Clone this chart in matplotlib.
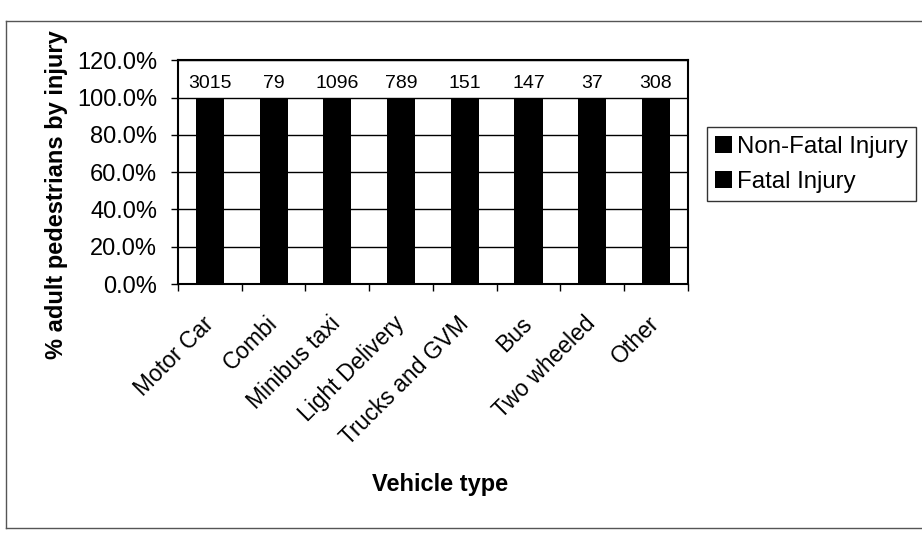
import numpy as np
import matplotlib
matplotlib.use('Agg')
import matplotlib.pyplot as plt
from matplotlib.lines import Line2D

plt.rcParams['font.family'] = ['Liberation Sans', 'DejaVu Sans']

# vehicle categories and total counts (labels above bars)
vehicles = ['Motor Car', 'Combi', 'Minibus taxi', 'Light Delivery',
            'Trucks and GVM', 'Bus', 'Two wheeled', 'Other']
totals = [3015, 79, 1096, 789, 151, 147, 37, 308]
# share of each injury type (%), both drawn black in the source
fatal_pct = [10.0, 12.0, 9.0, 11.0, 15.0, 13.0, 8.0, 12.0]
non_fatal_pct = [100.0 - f for f in fatal_pct]
yticks = [0, 20, 40, 60, 80, 100, 120]

fig = plt.figure(figsize=(9.22, 5.33), dpi=100)
ax = fig.add_axes([0.193, 0.467, 0.553, 0.42])

x = np.arange(len(vehicles))
w = 0.44
b1 = ax.bar(x, fatal_pct, w, color='black', label='Fatal Injury', zorder=3)
b2 = ax.bar(x, non_fatal_pct, w, bottom=fatal_pct, color='black',
            label='Non-Fatal Injury', zorder=3)

for xi, n, f, nf in zip(x, totals, fatal_pct, non_fatal_pct):
    ax.annotate(str(n), (xi, f + nf), xytext=(0, 4), textcoords='offset points',
                ha='center', va='bottom', fontsize=14)

ax.set_xlim(-0.5, len(vehicles) - 0.5)
ax.set_ylim(0, 120)
ax.set_yticks(yticks)
ax.set_yticklabels(['%.1f%%' % v for v in yticks], fontsize=17)
ax.yaxis.grid(True, color='black', lw=1, zorder=1)
ax.tick_params(axis='y', length=5, width=1, pad=10)

ax.set_xticks(x)
ax.set_xticklabels(vehicles, rotation=45, ha='right', va='center',
                   rotation_mode='anchor', fontsize=16.5)
ax.set_xticks(np.arange(len(vehicles) + 1) - 0.5, minor=True)
ax.tick_params(axis='x', which='major', length=0, pad=26)
ax.tick_params(axis='x', which='minor', length=5, width=1)

for s in ax.spines.values():
    s.set_linewidth(1.5)
    s.set_color('black')

ax.set_xlabel('Vehicle type', fontsize=17, fontweight='bold')
ax.xaxis.set_label_coords(0.514, -0.843)
ax.set_ylabel('% adult pedestrians by injury', fontsize=17, fontweight='bold')
ax.yaxis.set_label_coords(-0.215, 0.40)

leg = ax.legend([b2, b1], ['Non-Fatal Injury', 'Fatal Injury'],
                loc='upper left', bbox_to_anchor=(1.037, 0.70), fontsize=17.3,
                frameon=True, fancybox=False, edgecolor='black',
                handlelength=0.7, handleheight=0.7, handletextpad=0.2,
                borderpad=0.35, labelspacing=0.55, borderaxespad=0)
leg.get_frame().set_linewidth(1)

# outer chart border (top, left, bottom)
for xs, ys in [([0.006, 1.0], [0.96, 0.96]), ([0.006, 0.006], [0.96, 0.01]),
               ([0.006, 1.0], [0.01, 0.01])]:
    fig.add_artist(Line2D(xs, ys, color='#555555', lw=1))

fig.savefig('out.png', dpi=100)
